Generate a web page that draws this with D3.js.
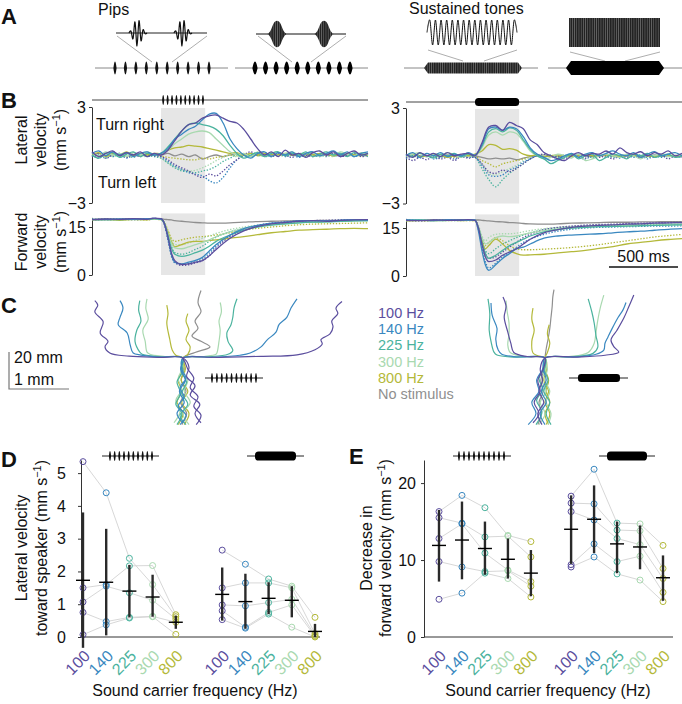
<!DOCTYPE html>
<html><head><meta charset="utf-8">
<script src="https://cdn.jsdelivr.net/npm/d3@7"></script>
<style>body{margin:0;background:#fff}svg{display:block}text{font-family:"Liberation Sans",Arial,Helvetica,sans-serif;fill:#111}</style>
</head><body><svg id="c" width="682" height="704"></svg>
<script>
// ================= DATA =================
const freqNames = ["100 Hz","140 Hz","225 Hz","300 Hz","800 Hz"];
const freqTicks = ["100","140","225","300","800"];
const freqColors = ["#5b4e9e","#3a88c0","#4bb39e","#a9d9b0","#b4b93a"];
const noStimName = "No stimulus";
const noStimColor = "#8f8f8f";
const stimDur = 320; // ms
const pipTimes = [16,48,80,112,144,176,208,240,272,304];
const latTicks = [-3,3];
const fwdTicks = [0,15];
const statTicksD = [0,1,2,3,4,5];
const statTicksE = [0,10,20];

// lateral velocity time grid (ms) and traces (mm/s)
const tLat = d3.range(-500, 1501, 50);
const latPipsToward = [
 [0.2,-0.1,0.1,0.25,-0.05,0.15,0,0.2,-0.1,0.1, 0.0,0.3,0.9,1.5,1.9,2.0,2.3,2.45,2.5,2.3,2.1,2.0,1.6,1.0,0.4,0.0,0.2,-0.1,0.3,0.0,0.1,-0.15,0.15,0.25,0.0,0.2,-0.1,0.1,0.25,0.0,0.1],
 [0.1,0.25,-0.05,0.2,0.0,0.15,-0.1,0.1,0.2,0.0, 0.1,0.4,1.0,1.3,1.6,1.8,2.2,2.55,2.6,2.0,1.0,0.4,0.0,-0.2,0.1,0.2,-0.1,0.15,0.0,0.2,-0.1,0.1,0.2,-0.05,0.1,0.25,0.0,0.2,-0.1,0.1,0.2],
 [0.0,-0.2,0.1,0.15,-0.15,0.05,0.2,-0.1,0.1,0.0, 0.1,0.5,1.0,1.5,1.9,2.0,1.9,1.8,1.6,1.2,0.6,0.1,-0.2,0.0,0.15,-0.1,0.1,0.2,-0.05,0.1,0.0,0.2,-0.1,0.05,0.2,0.0,0.1,-0.1,0.15,0.0,0.1],
 [0.15,-0.05,0.2,0.0,0.1,-0.1,0.15,0.0,0.2,0.05, 0.1,0.3,0.7,1.0,1.3,1.45,1.5,1.4,1.0,0.6,0.2,0.0,0.1,-0.1,0.2,0.0,0.15,-0.05,0.1,0.2,0.0,0.1,0.15,-0.1,0.1,0.0,0.2,0.05,-0.05,0.15,0.0],
 [0.05,0.15,-0.1,0.1,0.0,0.2,-0.05,0.1,0.0,0.1, 0.1,0.3,0.45,0.5,0.6,0.55,0.5,0.4,0.3,0.2,0.1,0.15,0.0,0.1,0.0,0.1,0.05,0.0,0.1,0.0,0.05,0.1,0.0,0.1,0.05,-0.05,0.05,0.1,0.0,0.05,0.0]
];
const latPipsAway = [
 [-0.1,0.1,-0.2,0.0,0.1,-0.15,0.05,-0.1,0.1,-0.05, -0.1,-0.3,-0.6,-0.8,-1.0,-1.25,-1.4,-1.2,-1.3,-1.0,-0.6,-0.3,0.0,0.2,0.0,0.15,-0.1,0.1,0.0,-0.15,0.1,0.0,-0.1,0.1,-0.05,0.1,-0.1,0.0,0.1,-0.1,0.0],
 [0.0,-0.2,0.1,-0.1,0.05,-0.2,0.0,0.1,-0.1,0.0, -0.1,-0.4,-0.7,-0.9,-1.1,-1.2,-1.3,-1.6,-1.75,-1.4,-0.8,-0.3,0.0,-0.1,0.1,-0.1,0.0,0.15,-0.1,0.0,-0.15,0.05,0.0,-0.1,0.1,-0.05,0.0,0.1,-0.1,0.0,-0.05],
 [-0.1,0.0,-0.2,0.05,-0.1,0.0,-0.15,0.05,-0.05,-0.1, -0.2,-0.5,-0.8,-1.0,-1.05,-1.1,-1.0,-0.9,-0.7,-0.4,-0.2,0.0,-0.1,0.1,-0.05,0.0,-0.1,0.05,-0.05,0.1,0.0,-0.1,0.05,0.0,-0.1,0.05,0.0,-0.05,0.05,0.0,-0.1],
 [-0.05,-0.15,0.05,-0.1,0.0,-0.1,0.05,-0.05,-0.1,0.0, -0.2,-0.5,-0.75,-0.9,-1.0,-0.95,-0.8,-0.6,-0.35,-0.15,0.0,-0.1,0.05,-0.05,0.0,-0.1,0.05,0.0,-0.05,0.05,-0.1,0.0,0.05,-0.05,0.0,-0.1,0.05,0.0,-0.05,0.05,0.0],
 [0.0,-0.1,0.05,-0.05,0.0,-0.1,0.0,0.05,-0.05,0.0, -0.05,-0.15,-0.2,-0.25,-0.3,-0.3,-0.2,-0.25,-0.15,-0.1,0.0,-0.05,0.0,0.05,-0.05,0.0,0.05,-0.05,0.0,0.0,0.05,-0.05,0.0,0.05,0.0,-0.05,0.0,0.05,0.0,-0.05,0.0]
];
const latPipsNone = [0.0,0.1,-0.05,0.05,0.0,0.1,0.0,-0.05,0.05,0.0, 0.0,0.1,-0.05,0.05,-0.1,0.0,-0.25,-0.1,0.0,-0.1,0.0,0.05,0.0,-0.05,0.0,0.05,0.0,0.0,0.05,0.0,-0.05,0.0,0.05,0.0,0.0,0.05,0.0,-0.05,0.0,0.05,0.0];
const latSusToward = [
 [0.1,-0.1,0.2,0.0,0.15,-0.05,0.2,0.0,0.1,0.15, 0.0,0.8,1.8,1.9,1.6,2.1,1.9,1.7,1.0,0.7,0.2,0.0,-0.2,-0.3,0.0,0.2,0.0,0.15,0.1,0.3,0.1,0.5,0.2,0.1,0.25,0.0,0.2,0.1,0.3,0.0,0.15],
 [0.0,0.2,-0.1,0.15,0.0,0.2,-0.05,0.1,0.0,0.2, 0.05,0.7,1.7,1.8,1.6,1.8,1.7,1.2,0.5,0.1,-0.1,-0.3,-0.2,0.0,0.15,-0.1,0.1,0.2,0.0,0.15,0.3,0.1,0.0,0.2,-0.1,0.1,0.25,0.0,0.1,0.2,0.0],
 [0.1,-0.05,0.15,0.0,-0.1,0.1,0.0,0.15,-0.05,0.1, 0.0,0.6,1.5,1.7,1.5,1.75,1.6,1.0,0.4,0.0,-0.2,-0.5,-0.3,-0.1,0.1,-0.2,0.0,0.1,-0.3,-0.1,0.1,0.0,-0.2,0.1,0.0,0.15,-0.1,0.0,0.1,-0.1,0.0],
 [0.0,0.1,0.2,-0.05,0.1,0.0,0.2,0.05,-0.1,0.1, 0.0,0.5,1.3,1.5,1.3,1.5,1.4,0.9,0.3,0.0,-0.2,-0.1,0.1,0.0,-0.15,0.1,-0.3,-0.2,0.0,0.1,0.0,-0.1,0.1,0.0,-0.2,0.05,0.0,0.1,-0.05,0.0,0.05],
 [0.05,0.1,-0.05,0.0,0.1,0.05,-0.1,0.0,0.05,0.0, 0.1,0.3,0.7,0.65,0.4,0.45,0.35,0.1,0.0,0.05,-0.05,0.0,0.05,0.0,-0.05,0.0,0.05,0.0,0.0,0.05,0.0,-0.05,0.0,0.05,0.0,0.0,-0.05,0.0,0.05,0.0,0.0]
];
const latSusAway = [
 [-0.1,-0.3,-0.1,-0.25,0.0,-0.2,-0.1,-0.3,-0.05,-0.15, -0.1,-0.5,-1.0,-1.1,-0.9,-1.0,-0.8,-0.5,-0.2,0.0,0.1,-0.1,0.0,-0.2,0.1,0.0,-0.15,0.05,-0.1,0.0,-0.2,0.0,-0.1,0.05,-0.15,0.0,-0.1,0.05,-0.2,0.0,-0.1],
 [-0.2,0.0,-0.15,0.05,-0.2,-0.1,0.0,-0.2,0.0,-0.1, -0.1,-0.6,-1.2,-1.3,-1.2,-0.9,-0.7,-0.4,-0.2,0.0,-0.1,0.0,-0.2,0.0,0.1,-0.1,-0.2,0.0,0.05,-0.1,0.0,-0.15,0.0,-0.1,0.05,-0.2,0.0,-0.1,0.0,-0.05,-0.1],
 [-0.1,0.05,-0.1,0.0,-0.15,0.0,-0.1,0.05,-0.1,0.0, -0.1,-0.8,-1.5,-1.95,-1.5,-1.1,-0.8,-0.5,-0.2,0.0,-0.1,0.05,-0.1,0.0,-0.05,0.1,0.0,-0.1,0.0,0.05,-0.1,0.0,0.05,-0.05,0.0,-0.1,0.0,0.05,-0.05,0.0,0.0],
 [0.0,-0.1,0.05,-0.05,0.0,-0.1,0.0,0.05,-0.05,0.0, -0.1,-0.5,-1.1,-1.2,-1.0,-0.8,-0.6,-0.3,-0.1,0.0,0.05,-0.05,0.0,0.05,-0.05,0.0,0.0,-0.1,0.05,0.0,-0.05,0.0,0.05,0.0,-0.05,0.05,0.0,-0.05,0.0,0.05,0.0],
 [-0.1,0.0,-0.05,0.0,-0.1,-0.05,0.0,-0.1,-0.05,0.0, -0.05,-0.3,-0.5,-0.7,-0.5,-0.4,-0.3,-0.2,-0.05,0.0,-0.05,0.0,-0.05,0.0,0.0,-0.05,0.0,0.0,-0.05,0.0,0.0,-0.05,0.0,0.0,-0.05,0.0,0.0,-0.05,0.0,0.0,0.0]
];
const latSusNone = [0.0,0.05,0.0,-0.05,0.05,0.0,0.05,-0.05,0.0,0.05, 0.0,-0.1,-0.2,-0.15,-0.2,-0.15,-0.25,-0.15,-0.05,0.0,0.05,0.0,-0.05,0.0,0.0,0.05,0.0,-0.05,0.0,0.05,0.0,0.0,0.05,0.0,-0.05,0.0,0.05,0.0,0.0,-0.05,0.0];

// forward velocity time grid (ms) and traces (mm/s)
const tFwd = [-500,-400,-300,-200,-100,-50,0,25,50,75,100,150,200,250,300,350,400,500,600,700,800,900,1000,1100,1200,1300,1400,1500];
const fwdPipsToward = [
 [17.3,17.5,17.4,17.6,17.4,17.8,17.6,16,12,7,4.5,3.3,3.5,4,4.5,6,8,11.5,13.8,15.2,16,16.4,16.8,17,16.8,17.1,17.2,17.3],
 [17.4,17.3,17.5,17.4,17.6,17.7,17.5,16,11.5,6.5,4,3.5,4,4.6,5.5,7.5,9.5,12.5,14.5,15.5,16.2,16.5,16.9,17,17,17.1,17.3,17.2],
 [17.3,17.4,17.3,17.5,17.4,17.6,17.4,16,12.5,8.5,6.5,5.8,6.2,7,7.8,9,10.5,12.5,14,15,15.6,16,16.3,16.5,16.6,16.8,16.9,17],
 [17.4,17.2,17.5,17.3,17.4,17.5,17.4,16.2,13,10,8.5,8.2,8.8,9.5,10.2,11,12,13.5,14.5,15.2,15.7,16,16.3,16.5,16.6,16.8,16.9,17],
 [17.2,17.3,17.1,17.4,17.2,17.5,17.3,16.2,13.5,10.5,8.8,9.5,10.3,10.5,10.5,10.8,11,11.5,12,12.6,13.2,13.6,14,14.2,14.3,14.5,14.6,14.5]
];
const fwdPipsAway = [
 [17.3,17.4,17.6,17.3,17.5,17.7,17.5,15.8,11.5,6.5,4,3,3.2,3.8,4.5,6,8.5,12,14.2,15.5,16.2,16.6,16.9,17,17.1,17.2,17.2,17.3],
 [17.4,17.3,17.4,17.6,17.4,17.6,17.5,15.8,11,6,3.8,3.2,3.6,4.2,5,6.8,9,12.2,14.4,15.4,16.1,16.5,16.8,17,17,17.1,17.2,17.2],
 [17.3,17.5,17.3,17.4,17.5,17.5,17.4,16,12.5,9,7,6.5,7,8,9,10.5,11.8,13.5,14.6,15.4,15.9,16.2,16.5,16.7,16.8,16.9,17,17],
 [17.4,17.3,17.4,17.3,17.5,17.5,17.4,16.3,13.5,11,9.5,9.5,10,10.8,11.5,12.2,13,14.2,15,15.6,16,16.3,16.5,16.7,16.8,16.9,17,17],
 [17.3,17.2,17.4,17.3,17.2,17.4,17.3,16.5,14,11.5,10.5,11,11.5,11.8,12,12.2,12.5,13.2,14,14.6,15,15.4,15.7,15.9,16,16.1,16.2,16.3]
];
const fwdPipsNone = [17.4,17.5,17.4,17.5,17.4,17.6,17.5,17.4,17.3,17.2,17.0,16.8,16.6,16.4,16.3,16.2,16.2,16.3,16.5,16.7,16.8,16.9,17,17,17.1,17.1,17.2,17.2];
const fwdSusToward = [
 [17.4,17.3,17.5,17.4,17.5,17.6,17.4,15,10,6,4.5,5,6.5,7.5,8.5,10,11.5,13.5,14.5,15.2,15.6,15.8,16,16.2,16.3,16.5,16.6,16.7],
 [17.5,17.4,17.3,17.6,17.4,17.5,17.5,14,8,3.5,1.8,3.5,5.5,7,8.5,9,10,11.8,12.5,12.8,13,13.2,13.5,13.8,14,14.3,14.6,14.8],
 [17.4,17.5,17.3,17.4,17.6,17.5,17.4,15,10.5,7,5.5,6.5,8,9.5,10.5,11.5,12.5,13.8,14.5,15,15.2,15.4,15.5,15.6,15.7,15.8,15.9,16],
 [17.3,17.5,17.4,17.3,17.5,17.4,17.4,15.5,12,10,10.5,12,12.5,12.3,12.5,13,13.5,14.2,14.7,15,15.3,15.5,15.6,15.7,15.8,15.9,16,16],
 [17.2,17.4,17.3,17.5,17.3,17.4,17.3,15,11,8.5,9.5,11.5,10,8,7,6.5,6.6,6.8,7.2,7.6,8,8.6,9.2,10,10.5,11,11.4,11.7]
];
const fwdSusAway = [
 [17.5,17.3,17.4,17.6,17.4,17.5,17.4,15.5,11,7,5.5,6,7.5,9,10.5,12,13,14.5,15.2,15.6,15.9,16.1,16.2,16.4,16.5,16.6,16.7,16.8],
 [17.3,17.5,17.4,17.4,17.5,17.6,17.3,14.5,9,4.5,2.5,4,6,7.5,9,10.5,11.5,13,14,14.6,15,15.2,15.3,15.4,15.5,15.6,15.6,15.7],
 [17.4,17.3,17.5,17.4,17.3,17.5,17.4,15.2,11,8,7,8.5,10,11,12,12.8,13.5,14.5,15,15.3,15.5,15.7,15.8,15.9,16,16.1,16.2,16.2],
 [17.4,17.4,17.3,17.5,17.4,17.5,17.4,15.8,12.5,11,12,13,13.2,13.2,13.4,13.8,14.2,14.8,15.2,15.5,15.7,15.9,16,16.1,16.2,16.3,16.3,16.4],
 [17.3,17.2,17.4,17.3,17.4,17.3,17.3,15.5,12,9.5,10.5,12,11,9.5,8.5,8.2,8.2,8.4,8.6,8.9,9.3,9.8,10.4,11,11.6,12.2,12.6,13]
];
const fwdSusNone = [17.5,17.4,17.6,17.5,17.4,17.5,17.5,17.5,17.4,17.3,17.2,17.0,16.9,16.7,16.6,16.4,16.3,16.2,16.3,16.5,16.6,16.7,16.8,16.8,16.9,16.9,17.0,17.0];

// example trajectories [lateral mm, forward mm]; pre-stimulus part then turn
const trajPipsPre = [
 [[0.22,-36],[0.3,-31],[0.18,-26],[0.25,-21],[0.12,-16],[0.18,-11],[0.08,-6],[0.03,-2],[0,0]],
 [[0.3,-35],[0.2,-30],[0.28,-25],[0.12,-20],[0.2,-15],[0.06,-10],[0.1,-5],[0,0]],
 [[-0.05,-36],[0.05,-31],[-0.08,-26],[0.02,-21],[-0.05,-16],[0.05,-11],[-0.02,-6],[0,0]],
 [[0.0,-35],[-0.1,-30],[0.02,-24],[-0.06,-18],[0.04,-12],[-0.04,-6],[0,0]],
 [[-0.1,-36],[-0.02,-30],[-0.12,-25],[-0.04,-19],[-0.1,-13],[0.0,-7],[-0.03,-3],[0,0]],
 [[0.05,-36],[-0.05,-31],[0.08,-25],[-0.02,-19],[0.06,-13],[-0.03,-7],[0,0]],
 [[-0.15,-35],[-0.05,-29],[-0.12,-23],[-0.02,-17],[-0.08,-11],[0.0,-5],[0,0]],
 [[0.1,-36],[0.0,-30],[0.12,-24],[0.02,-18],[0.08,-12],[-0.02,-6],[0,0]],
 [[0.02,-36],[0.1,-30],[-0.02,-24],[0.08,-18],[-0.03,-12],[0.04,-6],[0,0]],
 [[-0.08,-36],[0.0,-30],[-0.1,-24],[-0.02,-18],[-0.08,-12],[0.0,-6],[0,0]],
 [[-0.02,-36],[0.06,-30],[-0.04,-24],[0.05,-18],[-0.03,-12],[0.02,-6],[0,0]]
];
const trajPipsPost = [
 [[0,0],[0.6,0.35],[1.3,0.9],[1.9,1.7],[2.2,4.5],[2.32,7.5],[2.3,10],[2.45,13],[2.5,16.8],[2.48,20],[2.58,24],[2.55,27],[2.65,30.5]],
 [[0,0],[-0.4,0.3],[-0.9,1.0],[-1.22,2.7],[-1.3,6],[-1.25,9],[-1.38,13.5],[-1.33,19.5],[-1.47,25],[-1.42,28.6],[-1.47,31]],
 [[0,0],[0.5,0.4],[0.95,1.5],[1.12,2.7],[1.3,6],[1.4,9.7],[1.55,14],[1.6,18],[1.73,22],[1.8,27],[1.9,32]],
 [[0,0],[-0.4,0.5],[-0.7,1.6],[-0.83,2.7],[-0.88,7],[-0.93,13.5],[-1.08,18],[-1.05,22],[-1.0,27],[-1.05,31]],
 [[0,0],[0.4,0.6],[0.75,2],[0.83,4],[0.75,9],[0.73,13.5],[0.8,18],[0.83,22],[0.85,27],[0.9,32]],
 [[0,0],[-0.4,0.7],[-0.68,2],[-0.72,3.2],[-0.8,9],[-0.77,15],[-0.7,20],[-0.74,26],[-0.72,31]],
 [[0,0],[0.35,0.8],[0.55,2],[0.57,3.2],[0.6,9],[0.62,15],[0.6,20],[0.64,25],[0.62,30]],
 [[0,0],[-0.3,0.8],[-0.55,2],[-0.6,3.2],[-0.63,9],[-0.67,15],[-0.58,21],[-0.62,27],[-0.6,32]],
 [[0,0],[0.08,2],[0.12,6],[0.05,10],[0.1,15],[0.05,20],[0.08,24]],
 [[0,0],[-0.12,1.5],[-0.18,4.3],[-0.22,10],[-0.27,18.9],[-0.25,24],[-0.27,28.6]],
 [[0,0],[0.2,3],[0.45,6],[0.3,9],[0.15,12],[0.25,16],[0.2,20],[0.3,25],[0.25,30],[0.3,36.5]]
];
const trajSusPre = [
 [[-0.05,-36],[-0.12,-30],[-0.02,-24],[-0.1,-18],[-0.04,-12],[-0.08,-6],[0,0]],
 [[-0.2,-35],[-0.1,-30],[-0.18,-24],[-0.08,-18],[-0.12,-12],[-0.03,-6],[0,0]],
 [[-0.28,-36],[-0.15,-30],[-0.22,-24],[-0.1,-18],[-0.14,-12],[-0.04,-6],[0,0]],
 [[0.0,-36],[-0.08,-30],[0.02,-24],[-0.06,-18],[0.02,-12],[-0.03,-6],[0,0]],
 [[0.1,-36],[0.02,-30],[0.08,-24],[-0.02,-18],[0.05,-12],[-0.02,-6],[0,0]],
 [[-0.15,-36],[-0.05,-29],[-0.14,-23],[-0.04,-17],[-0.1,-11],[0.0,-5],[0,0]],
 [[0.05,-36],[0.1,-30],[0.02,-24],[0.08,-18],[0.0,-12],[0.04,-6],[0,0]],
 [[-0.1,-36],[0.0,-30],[-0.08,-24],[0.02,-18],[-0.05,-12],[0.01,-6],[0,0]],
 [[0.06,-36],[0.0,-30],[0.08,-24],[0.02,-18],[0.06,-12],[0.0,-6],[0,0]],
 [[0.02,-36],[0.08,-30],[0.0,-24],[0.06,-18],[-0.02,-12],[0.03,-6],[0,0]],
 [[-0.12,-36],[-0.06,-30],[-0.1,-24],[-0.03,-18],[-0.07,-12],[-0.01,-6],[0,0]]
];
const trajSusPost = [
 [[0,0],[0.5,0.5],[1.0,1.5],[1.23,3.2],[1.15,6],[1.1,9.7],[1.2,15],[1.32,22],[1.4,28],[1.48,34]],
 [[0,0],[-0.3,0.8],[-0.52,3],[-0.57,8],[-0.62,14],[-0.68,22],[-0.65,28],[-0.7,33]],
 [[0,0],[0.5,0.6],[0.85,2],[0.98,4.3],[1.0,8],[1.05,11.4],[1.12,16],[1.22,22],[1.3,26],[1.35,30]],
 [[0,0],[-0.45,0.6],[-0.72,2],[-0.78,4.3],[-0.82,10],[-0.8,16],[-0.88,23],[-0.9,29.7]],
 [[0,0],[0.45,0.6],[0.8,2.5],[0.88,5.9],[0.85,12],[0.82,18.9],[0.78,25],[0.72,32]],
 [[0,0],[-0.5,0.5],[-0.8,1.6],[-0.85,3.2],[-0.9,9],[-0.93,15],[-0.92,24],[-0.95,32]],
 [[0,0],[0.4,0.7],[0.72,3],[0.82,8],[0.85,14],[0.88,20.5],[0.92,27],[0.98,34]],
 [[0,0],[-0.35,0.8],[-0.58,3],[-0.62,7],[-0.6,13],[-0.6,19],[-0.63,25],[-0.65,31]],
 [[0,0],[0.04,3],[0.08,8],[0.04,13],[0.07,18]],
 [[0,0],[-0.12,1.2],[-0.2,2.7],[-0.22,9],[-0.18,15],[-0.22,21],[-0.2,27]],
 [[0,0],[0.02,5],[0.05,10],[0.08,16],[0.1,22],[0.12,28],[0.13,33],[0.15,37]]
];
// trajectory colour index (0-4 = frequency, 5 = no stimulus)
const trajColorIdx = [0,0,1,1,2,2,3,3,4,4,5];

// D: lateral velocity toward speaker (mm/s), 5 individuals x 5 frequencies
const dPipsInd = [[5.35,4.4,2.4,1.6,0.62],[1.5,1.6,2.17,2.18,0.68],[1.07,1.55,1.35,1.12,0.55],[0.75,0.47,0.6,0.63,0.45],[0.07,0.37,0.58,0.62,0.08]];
const dPipsMean = [1.73,1.67,1.4,1.22,0.45];
const dPipsLo = [-0.33,0.05,0.6,0.62,0.25];
const dPipsHi = [3.8,3.3,2.2,1.9,0.65];
const dSusInd = [[2.65,2.22,1.77,1.55,0.6],[1.5,1.65,1.65,1.5,0.1],[0.98,0.95,1.05,1.15,0.05],[0.8,0.3,0.75,0.98,0.02],[0.53,0.27,0.7,0.3,0.0]];
const dSusMean = [1.3,1.08,1.18,1.12,0.17];
const dSusLo = [0.5,0.25,0.7,0.6,0.0];
const dSusHi = [2.12,1.93,1.67,1.55,0.4];
// E: decrease in forward velocity (mm/s)
const ePipsInd = [[16.3,18.4,16.8,13.2,12.4],[15.5,14.8,13.0,13.1,10.4],[12.8,14.7,10.9,8.7,7.2],[9.8,9.1,8.5,8.6,6.6],[4.9,5.7,8.3,7.6,5.2]];
const ePipsMean = [11.9,12.6,11.5,10.1,8.3];
const ePipsLo = [7.2,7.5,8.1,7.6,5.3];
const ePipsHi = [16.5,17.6,15.0,12.8,11.3];
const eSusInd = [[18.3,21.8,14.8,14.7,11.9],[17.4,17.3,13.9,13.8,8.9],[16.3,15.2,12.8,12.0,7.6],[9.4,12.1,9.8,10.5,5.8],[9.1,10.4,8.2,7.4,4.6]];
const eSusMean = [14.0,15.3,12.1,11.7,7.7];
const eSusLo = [9.5,10.9,8.3,8.8,4.7];
const eSusHi = [18.4,19.7,15.0,14.5,10.6];

// stimulus schematic shapes (panel A)
const pipEnvelope = [0,0.55,0.9,1,0.9,0.55,0];
const wavelet100 = [0,0.15,-0.45,0.85,-1,0.95,-0.6,0.25,-0.05,0];
const wavelet800Env = [0,0.1,0.35,0.75,0.95,1,0.95,0.75,0.35,0.1,0];
const toneWave = [0,1,-1,1,-1,1,-1,1,-1,1,-1,1,-1,1,-1,1,-1,1,-1,1,-1,1,-1,1,-1,1,-1,1,-1,1,-1,1,0];

// ================= DRAWING =================
const svg = d3.select("#c");
const AX = "#333";
const defs = svg.append("defs");
const pat = defs.append("pattern").attr("id","tex").attr("patternUnits","userSpaceOnUse").attr("width",2.2).attr("height",4);
pat.append("rect").attr("width",2.2).attr("height",4).attr("fill","#222");
pat.append("rect").attr("width",0.7).attr("height",4).attr("fill","#6a6a6a");

function txt(g, s, x, y, opt={}) {
  const t = g.append("text").attr("x", x).attr("y", y).text(s)
    .attr("font-size", opt.size || 16);
  if (opt.anchor) t.attr("text-anchor", opt.anchor);
  if (opt.weight) t.attr("font-weight", opt.weight);
  if (opt.fill) t.style("fill", opt.fill);
  return t;
}
function unitsLabel(g, prefix, x, y, size=16) {
  const t = g.append("text").attr("transform", `translate(${x},${y}) rotate(-90)`)
    .attr("text-anchor","middle").attr("font-size", size);
  t.append("tspan").text(prefix + "(mm s");
  t.append("tspan").text("\u22121").attr("font-size", size*0.68).attr("dy", -size*0.4);
  t.append("tspan").text(")").attr("dy", size*0.4);
  return t;
}
function rotLabel(g, s, x, y, size=16) {
  return g.append("text").attr("transform", `translate(${x},${y}) rotate(-90)`)
    .attr("text-anchor","middle").attr("font-size", size).text(s);
}
function spindle(g, cx, cy, hw, hh, fill) {
  const sx = d3.scaleLinear().domain([0, pipEnvelope.length-1]).range([cx-hw, cx+hw]);
  g.append("path").datum(pipEnvelope)
    .attr("d", d3.area().x((d,i)=>sx(i)).y0(d=>cy-hh*d).y1(d=>cy+hh*d).curve(d3.curveCatmullRom))
    .attr("fill", fill);
}
function pipIcon(g, x1, x2, p1, p2, y, hh=5, hw=1.2) {
  g.append("line").attr("x1",x1).attr("x2",x2).attr("y1",y).attr("y2",y).attr("stroke","#222").attr("stroke-width",1);
  const sx = d3.scaleLinear().domain([pipTimes[0], pipTimes[pipTimes.length-1]]).range([p1,p2]);
  pipTimes.forEach(t => spindle(g, sx(t), y, hw, hh, "#111"));
}
function barIcon(g, x1, x2, b1, b2, y, h=9) {
  g.append("line").attr("x1",x1).attr("x2",x2).attr("y1",y).attr("y2",y).attr("stroke","#222").attr("stroke-width",1);
  g.append("rect").attr("x",b1).attr("y",y-h/2).attr("width",b2-b1).attr("height",h).attr("rx",h/2.5).attr("fill","#000");
}

// ---------- panel letters
[["A",1,24],["B",1,108],["C",1,313],["D",1,467],["E",349,464]].forEach(([l,x,y]) =>
  txt(svg, l, x, y, {size:22, weight:"bold"}));

// ---------- Panel A
const gA = svg.append("g");
txt(gA, "Pips", 98, 15);
txt(gA, "Sustained tones", 409, 14);
gA.append("line").attr("x1",95).attr("x2",228).attr("y1",68).attr("y2",68).attr("stroke","#888");
const trainA1 = d3.scaleLinear().domain([pipTimes[0], pipTimes[9]]).range([115,209]);
pipTimes.forEach(t => spindle(gA, trainA1(t), 68, 1.6, 6.5, "#111"));
gA.append("line").attr("x1",116).attr("x2",207).attr("y1",33).attr("y2",33).attr("stroke","#222");
[138,183].forEach(cx => {
  const sx = d3.scaleLinear().domain([0, wavelet100.length-1]).range([cx-9, cx+9]);
  gA.append("path").datum(wavelet100).attr("d", d3.line().x((d,i)=>sx(i)).y(d=>33-13*d).curve(d3.curveCardinal))
    .attr("fill","none").attr("stroke","#111").attr("stroke-width",1.2);
});
[[117,36,152,62],[207,36,172,62],[258,36,292,62],[346,36,311,62],[428,50,463,61],[517,50,484,61],[570,52,605,61],[660,52,625,61]]
  .forEach(([x1,y1,x2,y2]) => gA.append("line").attr("x1",x1).attr("y1",y1).attr("x2",x2).attr("y2",y2).attr("stroke","#999").attr("stroke-width",0.8));
gA.append("line").attr("x1",235).attr("x2",368).attr("y1",68).attr("y2",68).attr("stroke","#888");
const trainA2 = d3.scaleLinear().domain([pipTimes[0], pipTimes[9]]).range([255,350]);
pipTimes.forEach(t => spindle(gA, trainA2(t), 68, 2.6, 6.5, "#000"));
gA.append("line").attr("x1",256).attr("x2",346).attr("y1",34).attr("y2",34).attr("stroke","#111");
[277,324].forEach(cx => {
  const sx = d3.scaleLinear().domain([0, wavelet800Env.length-1]).range([cx-9.5, cx+9.5]);
  gA.append("path").datum(wavelet800Env)
    .attr("d", d3.area().x((d,i)=>sx(i)).y0(d=>34-13.5*d).y1(d=>34+13.5*d).curve(d3.curveBasis))
    .attr("fill","url(#tex)");
});
gA.append("line").attr("x1",404).attr("x2",538).attr("y1",68).attr("y2",68).attr("stroke","#888");
gA.append("path").attr("d","M424,68L428,62.5L518,62.5L522,68L518,73.5L428,73.5Z").attr("fill","url(#tex)");
{
  const sx = d3.scaleLinear().domain([0, toneWave.length-1]).range([427,517]);
  gA.append("path").datum(toneWave).attr("d", d3.line().x((d,i)=>sx(i)).y(d=>32.5-12.5*d).curve(d3.curveCardinal))
    .attr("fill","none").attr("stroke","#111").attr("stroke-width",1);
}
gA.append("line").attr("x1",548).attr("x2",682).attr("y1",68).attr("y2",68).attr("stroke","#888");
gA.append("path").attr("d","M566,68L571,61L659,61L664,68L659,75L571,75Z").attr("fill","#000");
gA.append("rect").attr("x",569).attr("y",18).attr("width",91).attr("height",29).attr("fill","url(#tex)");

// ---------- Panel B
const xBL = d3.scaleLinear().domain([-500,1500]).range([92,368]);
const xBR = d3.scaleLinear().domain([-500,1500]).range([406,682]);
const yLatL = d3.scaleLinear().domain([-3,3]).range([203,107]);
const yLatR = d3.scaleLinear().domain([-3,3]).range([203.5,108]);
const yFwdL = d3.scaleLinear().domain([0,18]).range([275,217.4]);
const yFwdR = d3.scaleLinear().domain([0,18]).range([276,218.4]);
const gB = svg.append("g");

function panelB(x, yLat, yFwd, latToward, latAway, latNone, fwdToward, fwdAway, fwdNone) {
  gB.append("rect").attr("x",x(0)).attr("width",x(stimDur)-x(0)).attr("y",yLat(3)+1).attr("height",yLat(-3)-yLat(3)-1).attr("fill","#e6e6e6");
  gB.append("rect").attr("x",x(0)).attr("width",x(stimDur)-x(0)).attr("y",yFwd(18)-4).attr("height",yFwd(0)-yFwd(18)+4).attr("fill","#e6e6e6");
  gB.append("g").attr("transform",`translate(${x.range()[0]},0)`)
    .call(d3.axisLeft(yLat).tickValues(latTicks).tickSize(3).tickSizeOuter(0).tickPadding(3).tickFormat(d3.format("d")))
    .call(g=>{g.selectAll("text").attr("font-size",16).attr("font-family",null);g.selectAll("path,line").attr("stroke",AX);});
  gB.append("g").attr("transform",`translate(${x.range()[0]},0)`)
    .call(d3.axisLeft(yFwd).tickValues(fwdTicks).tickSize(3).tickSizeOuter(0).tickPadding(3).tickFormat(d3.format("d")))
    .call(g=>{g.selectAll("text").attr("font-size",16).attr("font-family",null);g.selectAll("path,line").attr("stroke",AX);});
  const lineLat = d3.line().defined(d=>d!=null).x((d,i)=>x(tLat[i])).y(d=>yLat(d)).curve(d3.curveCatmullRom);
  const lineFwd = d3.line().defined(d=>d!=null).x((d,i)=>x(tFwd[i])).y(d=>yFwd(d)).curve(d3.curveMonotoneX);
  const draw = (arr, gen, color, dotted) => gB.append("path").datum(arr).attr("d", gen)
    .attr("fill","none").attr("stroke",color).attr("stroke-width",1.3)
    .attr("stroke-dasharray", dotted ? "1.4,1.6" : null);
  draw(latNone, lineLat, noStimColor, false);
  draw(fwdNone, lineFwd, noStimColor, false);
  for (let k=4;k>=0;k--) {
    draw(latAway[k], lineLat, freqColors[k], true);
    draw(fwdAway[k], lineFwd, freqColors[k], true);
  }
  for (let k=4;k>=0;k--) {
    draw(latToward[k], lineLat, freqColors[k], false);
    draw(fwdToward[k], lineFwd, freqColors[k], false);
  }
}
panelB(xBL, yLatL, yFwdL, latPipsToward, latPipsAway, latPipsNone, fwdPipsToward, fwdPipsAway, fwdPipsNone);
panelB(xBR, yLatR, yFwdR, latSusToward, latSusAway, latSusNone, fwdSusToward, fwdSusAway, fwdSusNone);
gB.append("line").attr("x1",xBL(-500)).attr("x2",xBL(1500)).attr("y1",100).attr("y2",100).attr("stroke","#444");
pipTimes.forEach(t => spindle(gB, xBL(t), 100, 1.1, 5, "#111"));
gB.append("line").attr("x1",xBR(-500)).attr("x2",xBR(1500)).attr("y1",102).attr("y2",102).attr("stroke","#444");
gB.append("rect").attr("x",xBR(0)).attr("width",xBR(stimDur)-xBR(0)).attr("y",98).attr("height",8).attr("rx",3.5).attr("fill","#000");
txt(gB, "Turn right", 96, 130);
txt(gB, "Turn left", 98, 188);
rotLabel(gB, "Lateral", 27, 140);
rotLabel(gB, "velocity", 46, 140);
unitsLabel(gB, "", 66, 140);
rotLabel(gB, "Forward", 27, 242);
rotLabel(gB, "velocity", 46, 242);
unitsLabel(gB, "", 66, 242);
{
  const xe = 678, len = xBR(500) - xBR(0);
  gB.append("line").attr("x1",xe-len).attr("x2",xe).attr("y1",267).attr("y2",267).attr("stroke","#111").attr("stroke-width",1.5);
  txt(gB, "500 ms", xe-len/2, 262, {anchor:"middle"});
}

// ---------- Panel C
const gC = svg.append("g");
const yC = d3.scaleLinear().domain([0, 20]).range([358, 321]);
const xCL = d3.scaleLinear().domain([0, 1]).range([183, 243]);
const xCR = d3.scaleLinear().domain([0, 1]).range([545, 605]);
function drawTraj(xs, pre, post) {
  const order = [10,9,8,7,6,5,4,3,2,1,0];
  order.forEach(k => {
    const pts = pre[k].concat(post[k].slice(1));
    const ci = trajColorIdx[k];
    gC.append("path").datum(pts)
      .attr("d", d3.line().x(d=>xs(d[0])).y(d=>yC(d[1])).curve(d3.curveCatmullRom))
      .attr("fill","none").attr("stroke", ci===5 ? noStimColor : freqColors[ci]).attr("stroke-width",1.2);
  });
}
drawTraj(xCL, trajPipsPre, trajPipsPost);
drawTraj(xCR, trajSusPre, trajSusPost);
pipIcon(gC, 205, 263, 212, 256, 378, 5, 1.1);
barIcon(gC, 569, 628, 578, 620, 378, 8);
{
  const bx = 9, by = 389;
  gC.append("path").attr("d", `M${bx},${by - (yC(0)-yC(20))}V${by}H${bx + (xCL(1)-xCL(0))}`)
    .attr("fill","none").attr("stroke","#777").attr("stroke-width",1.2);
  txt(gC, "20 mm", 14, 363);
  txt(gC, "1 mm", 14, 385);
}
freqNames.concat([noStimName]).forEach((n,i) => {
  txt(gC, n, 378, 318 + i*16.2, {fill: i<5 ? freqColors[i] : noStimColor, size:14.5});
});

// ---------- Panels D, E
function statPanel(cfg) {
  const g = svg.append("g");
  const {y, xPos, offsets, ticks, axisX, axisEnd, padding} = cfg;
  g.append("g").attr("transform",`translate(${axisX},0)`)
    .call(d3.axisLeft(y).tickValues(ticks).tickSize(3).tickSizeOuter(0).tickPadding(padding).tickFormat(d3.format("d")))
    .call(a=>{a.selectAll("text").attr("font-size",16).attr("font-family",null);a.selectAll("path,line").attr("stroke",AX);});
  g.append("line").attr("x1",axisX).attr("x2",axisEnd).attr("y1",y(0)).attr("y2",y(0)).attr("stroke",AX);
  cfg.groups.forEach((grp, gi) => {
    const xs = i => xPos(i + offsets[gi]);
    grp.ind.forEach(row => {
      g.append("path").datum(row).attr("d", d3.line().x((d,i)=>xs(i)).y(d=>y(d)))
        .attr("fill","none").attr("stroke","#d2d2d2").attr("stroke-width",0.9);
    });
    grp.ind.forEach(row => row.forEach((v,i) => {
      g.append("circle").attr("cx",xs(i)).attr("cy",y(v)).attr("r",3)
        .attr("fill","none").attr("stroke",freqColors[i]).attr("stroke-width",1);
    }));
    grp.mean.forEach((m,i) => {
      g.append("line").attr("x1",xs(i)).attr("x2",xs(i)).attr("y1",y(grp.lo[i])).attr("y2",y(grp.hi[i]))
        .attr("stroke","#2a2a2a").attr("stroke-width",2.4);
      g.append("line").attr("x1",xs(i)-7).attr("x2",xs(i)+7).attr("y1",y(m)).attr("y2",y(m))
        .attr("stroke","#000").attr("stroke-width",1.4);
    });
    freqTicks.forEach((lab,i) => {
      g.append("text").attr("transform",`translate(${xs(i)+8},657) rotate(-45)`)
        .attr("text-anchor","end").attr("font-size",16).style("fill",freqColors[i]).text(lab);
    });
  });
  return g;
}
const yD = d3.scaleLinear().domain([0,5.4]).range([637,460]);
const xD = d3.scaleLinear().domain([0,10]).range([83,315]);
const gD = statPanel({y:yD, xPos:xD, offsets:[0,6], ticks:statTicksD, axisX:81, axisEnd:320, padding:12,
  groups:[{ind:dPipsInd,mean:dPipsMean,lo:dPipsLo,hi:dPipsHi},{ind:dSusInd,mean:dSusMean,lo:dSusLo,hi:dSusHi}]});
pipIcon(gD, 102, 159, 110, 152, 456, 5, 1.1);
barIcon(gD, 247, 304, 255, 296, 456, 9);
rotLabel(gD, "Lateral velocity", 27, 548);
unitsLabel(gD, "toward speaker ", 47, 548);
txt(gD, "Sound carrier frequency (Hz)", 195, 696, {anchor:"middle"});

const yE = d3.scaleLinear().domain([0,23]).range([637,460]);
const xE = d3.scaleLinear().domain([0,9.75]).range([439,663]);
const gE = statPanel({y:yE, xPos:xE, offsets:[0,5.75], ticks:statTicksE, axisX:424, axisEnd:673, padding:5,
  groups:[{ind:ePipsInd,mean:ePipsMean,lo:ePipsLo,hi:ePipsHi},{ind:eSusInd,mean:eSusMean,lo:eSusLo,hi:eSusHi}]});
pipIcon(gE, 453, 511, 459, 504, 456, 5, 1.1);
barIcon(gE, 599, 655, 607, 647, 456, 9);
rotLabel(gE, "Decrease in", 372, 548);
unitsLabel(gE, "forward velocity ", 391, 548);
txt(gE, "Sound carrier frequency (Hz)", 548, 696, {anchor:"middle"});
</script></body></html>
